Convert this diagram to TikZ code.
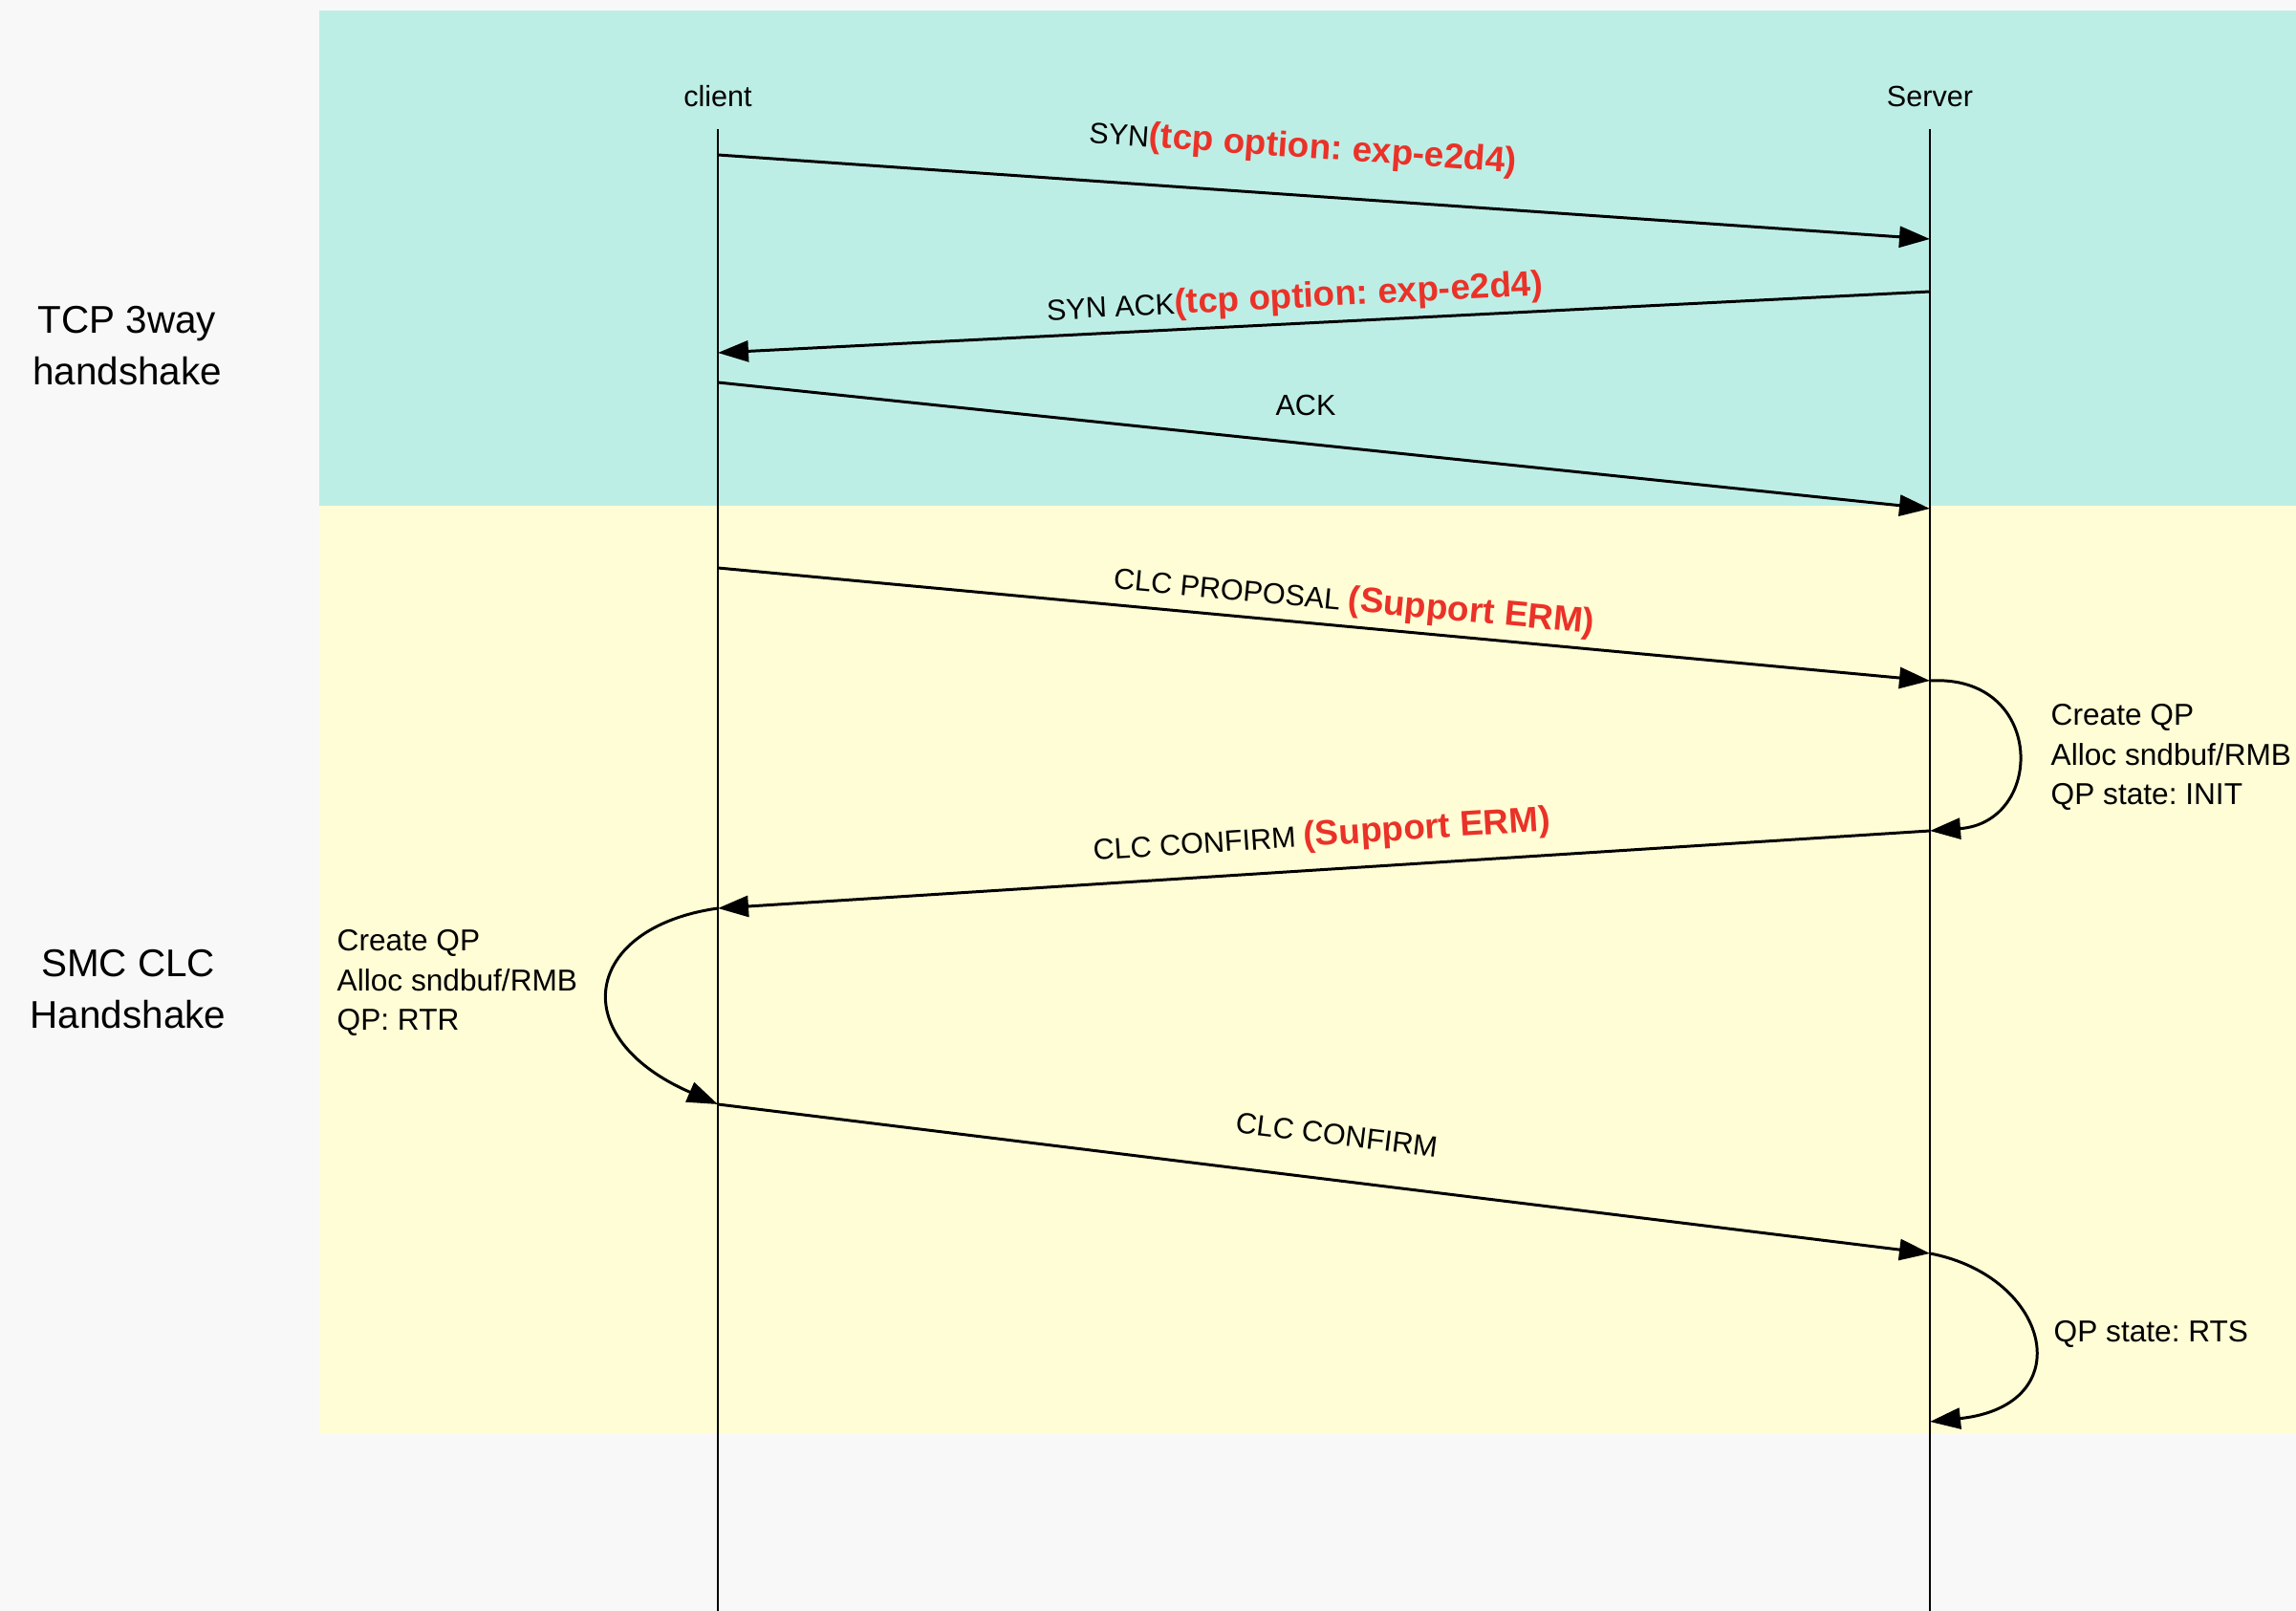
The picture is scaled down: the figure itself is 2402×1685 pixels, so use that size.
\documentclass[tikz,border=0pt]{standalone}
\usepackage{fontspec}
\setmainfont{Liberation Sans}
\usetikzlibrary{arrows.meta}
\frenchspacing

\definecolor{pagebg}{RGB}{248,248,248}
\definecolor{tcpband}{RGB}{189,238,230}
\definecolor{clcband}{RGB}{255,253,213}
\definecolor{ermred}{RGB}{234,50,40}
\newcommand\ermtxt[1]{{\color{ermred}\bfseries\fontsize{10.5}{12.6}\selectfont #1}}

\begin{document}
\begin{tikzpicture}[
  x=0.1mm,y=-0.1mm,
  life/.style={line width=.65pt},
  msg/.style={line width=.85pt,-{Triangle[length=3.2mm,width=2.2mm]}},
  lbl/.style={inner sep=0pt,font=\fontsize{8.7}{10.4}\selectfont},
  note/.style={inner sep=0pt,anchor=west,align=left,font=\fontsize{9}{11.9}\selectfont},
  phase/.style={inner sep=0pt,align=center,font=\fontsize{11.5}{15.4}\selectfont}
]
  \fill[pagebg] (0,0) rectangle (2402,1685);
  \useasboundingbox (0,0) rectangle (2402,1685);
  \fill[tcpband] (334,11) rectangle (2402,529);
  \fill[clcband] (334,529) rectangle (2402,1500);

  \node[phase] (tcp) at (133,362) {TCP 3way\\handshake};
  \node[phase] (clc) at (134,1035) {SMC CLC\\Handshake};

  \node[lbl,anchor=base] (client) at (751,112) {client};
  \node[lbl,anchor=base] (server) at (2019,112) {Server};
  \coordinate (ctop) at (751,135);
  \coordinate (cbot) at (751,1685);
  \coordinate (stop) at (2019,135);
  \coordinate (sbot) at (2019,1685);
  \draw[life] (ctop) -- (cbot);
  \draw[life] (stop) -- (sbot);

  \coordinate (c1) at (751,162);
  \coordinate (s1) at (2019,250);
  \coordinate (s2) at (2019,305);
  \coordinate (c2) at (751,369);
  \coordinate (c3) at (751,400);
  \coordinate (s3) at (2019,532);
  \coordinate (c4) at (751,594);
  \coordinate (s4) at (2019,712);
  \coordinate (s5) at (2019,869);
  \coordinate (c5) at (751,950);
  \coordinate (c6) at (751,1155);
  \coordinate (s6) at (2019,1311);
  \coordinate (s7) at (2019,1487);

  \draw[msg] (c1) -- node[lbl,sloped,above=8.6pt,pos=.48] (synlbl)
    {SYN\ermtxt{(tcp option: exp-e2d4)}} (s1);
  \draw[msg] (s2) -- node[lbl,sloped,above=2.1pt,pos=.523] (synacklbl)
    {SYN ACK\ermtxt{(tcp option: exp-e2d4)}} (c2);
  \draw[msg] (c3) -- node[lbl,above=8pt,pos=.485] (acklbl) {ACK} (s3);

  \draw[msg] (c4) -- node[lbl,sloped,above=2.1pt,pos=.523] (proplbl)
    {CLC PROPOSAL \ermtxt{(Support ERM)}} (s4);
  \draw[msg] (s4) .. controls (2140,705) and (2140,860) .. (s5);
  \node[note] (srvinit) at (2145,792) {Create QP\\Alloc sndbuf/RMB\\QP state: INIT};

  \draw[msg] (s5) -- node[lbl,sloped,above=4.6pt,pos=.5] (conflbl)
    {CLC CONFIRM \ermtxt{(Support ERM)}} (c5);
  \draw[msg] (c5) .. controls (610,970) and (590,1085) .. (c6);
  \node[note] (clirtr) at (352,1028) {Create QP\\Alloc sndbuf/RMB\\QP: RTR};

  \draw[msg] (c6) -- node[lbl,sloped,above=10pt,pos=.506] (conf2lbl)
    {CLC CONFIRM} (s6);
  \draw[msg] (s6) .. controls (2145,1335) and (2178,1470) .. (s7);
  \node[note] (srvrts) at (2148,1395) {QP state: RTS};
\end{tikzpicture}
\end{document}
